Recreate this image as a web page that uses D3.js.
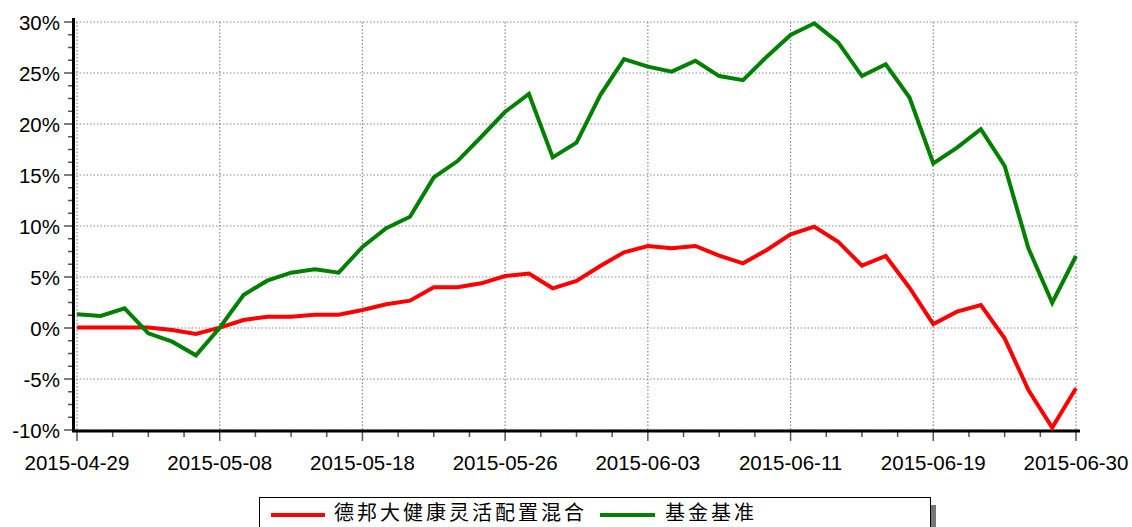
<!DOCTYPE html>
<html>
<head>
<meta charset="utf-8">
<script src="https://cdn.jsdelivr.net/npm/d3@7/dist/d3.min.js"></script>
<style>
  html,body{margin:0;padding:0;background:#fff;}
  svg{display:block;}
  .tick-label{font-family:Arial,"Liberation Sans",sans-serif;font-size:20.5px;fill:#000;}
  .legend-text{font-family:"Noto Sans CJK SC",sans-serif;font-size:20px;letter-spacing:3px;fill:#000;}
</style>
</head>
<body>
<svg id="chart" width="1132" height="527"></svg>
<script>
// trading days (x categories)
const dates = ['2015-04-29','2015-04-30','2015-05-04','2015-05-05','2015-05-06','2015-05-07','2015-05-08',
  '2015-05-11','2015-05-12','2015-05-13','2015-05-14','2015-05-15','2015-05-18','2015-05-19','2015-05-20',
  '2015-05-21','2015-05-22','2015-05-25','2015-05-26','2015-05-27','2015-05-28','2015-05-29','2015-06-01',
  '2015-06-02','2015-06-03','2015-06-04','2015-06-05','2015-06-08','2015-06-09','2015-06-10','2015-06-11',
  '2015-06-12','2015-06-15','2015-06-16','2015-06-17','2015-06-18','2015-06-19','2015-06-23','2015-06-24',
  '2015-06-25','2015-06-26','2015-06-29','2015-06-30'];

// cumulative return, %
const fundValues = [0.05,0.05,0.05,0.05,-0.2,-0.59,0.03,0.78,1.11,1.11,1.31,1.31,1.76,2.32,2.68,3.99,3.99,4.38,5.1,5.33,
  3.89,4.61,6.08,7.42,8.04,7.81,8.04,7.09,6.34,7.65,9.18,9.93,8.46,6.11,7.06,3.95,0.39,1.6,2.25,-1.01,-6.08,-9.77,-5.91];
const benchValues = [1.34,1.18,1.93,-0.52,-1.34,-2.68,0.03,3.24,4.64,5.42,5.75,5.42,7.95,9.78,10.9,14.77,16.37,18.75,21.2,22.94,
  16.73,18.17,22.84,26.37,25.62,25.13,26.2,24.7,24.3,26.6,28.73,29.87,28.0,24.7,25.85,22.6,16.14,17.68,19.5,15.9,7.81,2.48,7.06];

const seriesNames = ['德邦大健康灵活配置混合','基金基准'];
const seriesColors = ['#ff0000','#008000'];

const yTicks = [-10,-5,0,5,10,15,20,25,30];
const xLabelIdx = [0,6,12,18,24,30,36,42];

(function(){
  const svg = d3.select('#chart');
  const L = 77, R = 1076, T = 22, B = 430;

  const x = d3.scaleLinear().domain([0, dates.length-1]).range([L, R]);
  const y = d3.scaleLinear().domain([-10, 30]).range([B, T]);

  // grid
  const grid = svg.append('g').attr('stroke','#888').attr('stroke-width',1.2).attr('stroke-dasharray','1.5,2');
  yTicks.forEach(v=>{
    grid.append('line').attr('x1',L-1).attr('x2',R+2).attr('y1',y(v)).attr('y2',y(v));
  });
  xLabelIdx.forEach(i=>{
    grid.append('line').attr('x1',x(i)).attr('x2',x(i)).attr('y1',T).attr('y2',B);
  });

  // y axis
  const ya = svg.append('g');
  d3.range(-10, 30.01, 1.25).forEach(v=>{
    const major = yTicks.includes(v);
    ya.append('line').attr('x1', major?64:68).attr('x2',73).attr('y1',y(v)).attr('y2',y(v))
      .attr('stroke','#555').attr('stroke-width',1.5);
  });
  ya.append('line').attr('x1',73.5).attr('x2',73.5).attr('y1',T-4).attr('y2',B+2)
    .attr('stroke','#000').attr('stroke-width',3);
  yTicks.forEach(v=>{
    ya.append('text').attr('class','tick-label').attr('x',60).attr('y',y(v))
      .attr('text-anchor','end').attr('dominant-baseline','central').text(v+'%');
  });

  // x axis
  const xa = svg.append('g');
  d3.range(0, 42.01, 1.5).forEach(i=>{
    const major = xLabelIdx.includes(i);
    xa.append('line').attr('x1',x(i)).attr('x2',x(i)).attr('y1',B+1).attr('y2',B+(major?11:7))
      .attr('stroke','#555').attr('stroke-width',1.5);
  });
  xa.append('line').attr('x1',72).attr('x2',R+4).attr('y1',B+1).attr('y2',B+1)
    .attr('stroke','#000').attr('stroke-width',3);
  xLabelIdx.forEach(i=>{
    xa.append('text').attr('class','tick-label').attr('x',x(i)).attr('y',462)
      .attr('text-anchor','middle').attr('dominant-baseline','central').text(dates[i]);
  });

  // lines
  const line = d3.line().x((d,i)=>x(i)).y(d=>y(d));
  [fundValues, benchValues].forEach((vals,k)=>{
    svg.append('path').datum(vals).attr('d',line).attr('fill','none')
      .attr('stroke',seriesColors[k]).attr('stroke-width',4).attr('stroke-linejoin','miter');
  });

  // legend
  const lg = svg.append('g');
  lg.append('rect').attr('x',931).attr('y',505).attr('width',5).attr('height',30).attr('fill','#777');
  lg.append('rect').attr('x',259.5).attr('y',497.5).attr('width',671).attr('height',40)
    .attr('fill','#fff').attr('stroke','#000').attr('stroke-width',1);
  const legendItems = [{x1:271,x2:325,tx:334},{x1:600,x2:655,tx:665}];
  legendItems.forEach((it,k)=>{
    lg.append('line').attr('x1',it.x1).attr('x2',it.x2).attr('y1',515).attr('y2',515)
      .attr('stroke',seriesColors[k]).attr('stroke-width',4);
    lg.append('text').attr('class','legend-text').attr('x',it.tx).attr('y',511)
      .attr('dominant-baseline','central').text(seriesNames[k]);
  });
})();
</script>
</body>
</html>
